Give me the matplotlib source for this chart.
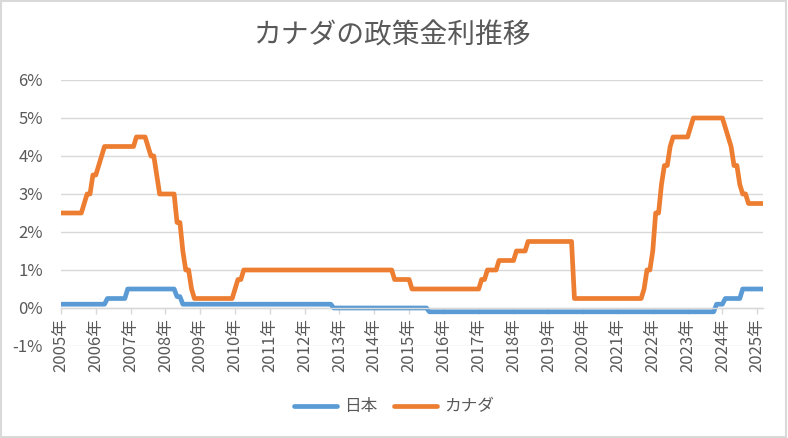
import numpy as np
import matplotlib.pyplot as plt
from matplotlib.patches import Rectangle

plt.rcParams['font.family'] = ['Noto Sans CJK JP', 'DejaVu Sans']

# monthly policy rates (%), Jan 2005 - Mar 2025, one row per year
japan = [
    0.1, 0.1, 0.1, 0.1, 0.1, 0.1, 0.1, 0.1, 0.1, 0.1, 0.1, 0.1,
    0.1, 0.1, 0.1, 0.1, 0.25, 0.25, 0.25, 0.25, 0.25, 0.25, 0.25, 0.5,
    0.5, 0.5, 0.5, 0.5, 0.5, 0.5, 0.5, 0.5, 0.5, 0.5, 0.5, 0.5,
    0.5, 0.5, 0.5, 0.5, 0.3, 0.3, 0.1, 0.1, 0.1, 0.1, 0.1, 0.1,
    0.1, 0.1, 0.1, 0.1, 0.1, 0.1, 0.1, 0.1, 0.1, 0.1, 0.1, 0.1,
    0.1, 0.1, 0.1, 0.1, 0.1, 0.1, 0.1, 0.1, 0.1, 0.1, 0.1, 0.1,
    0.1, 0.1, 0.1, 0.1, 0.1, 0.1, 0.1, 0.1, 0.1, 0.1, 0.1, 0.1,
    0.1, 0.1, 0.1, 0.1, 0.1, 0.1, 0.1, 0.1, 0.1, 0.1, 0.0, 0.0,
    0.0, 0.0, 0.0, 0.0, 0.0, 0.0, 0.0, 0.0, 0.0, 0.0, 0.0, 0.0,
    0.0, 0.0, 0.0, 0.0, 0.0, 0.0, 0.0, 0.0, 0.0, 0.0, 0.0, 0.0,
    0.0, 0.0, 0.0, 0.0, 0.0, 0.0, 0.0, -0.1, -0.1, -0.1, -0.1, -0.1,
    -0.1, -0.1, -0.1, -0.1, -0.1, -0.1, -0.1, -0.1, -0.1, -0.1, -0.1, -0.1,
    -0.1, -0.1, -0.1, -0.1, -0.1, -0.1, -0.1, -0.1, -0.1, -0.1, -0.1, -0.1,
    -0.1, -0.1, -0.1, -0.1, -0.1, -0.1, -0.1, -0.1, -0.1, -0.1, -0.1, -0.1,
    -0.1, -0.1, -0.1, -0.1, -0.1, -0.1, -0.1, -0.1, -0.1, -0.1, -0.1, -0.1,
    -0.1, -0.1, -0.1, -0.1, -0.1, -0.1, -0.1, -0.1, -0.1, -0.1, -0.1, -0.1,
    -0.1, -0.1, -0.1, -0.1, -0.1, -0.1, -0.1, -0.1, -0.1, -0.1, -0.1, -0.1,
    -0.1, -0.1, -0.1, -0.1, -0.1, -0.1, -0.1, -0.1, -0.1, -0.1, -0.1, -0.1,
    -0.1, -0.1, -0.1, -0.1, -0.1, -0.1, -0.1, -0.1, -0.1, -0.1, 0.1, 0.1,
    0.1, 0.25, 0.25, 0.25, 0.25, 0.25, 0.25, 0.5, 0.5, 0.5, 0.5, 0.5,
    0.5, 0.5, 0.5,
]

canada = [
    2.5, 2.5, 2.5, 2.5, 2.5, 2.5, 2.5, 2.5, 2.75, 3.0, 3.0, 3.5,
    3.5, 3.75, 4.0, 4.25, 4.25, 4.25, 4.25, 4.25, 4.25, 4.25, 4.25, 4.25,
    4.25, 4.25, 4.5, 4.5, 4.5, 4.5, 4.25, 4.0, 4.0, 3.5, 3.0, 3.0,
    3.0, 3.0, 3.0, 3.0, 2.25, 2.25, 1.5, 1.0, 1.0, 0.5, 0.25, 0.25,
    0.25, 0.25, 0.25, 0.25, 0.25, 0.25, 0.25, 0.25, 0.25, 0.25, 0.25, 0.25,
    0.5, 0.75, 0.75, 1.0, 1.0, 1.0, 1.0, 1.0, 1.0, 1.0, 1.0, 1.0,
    1.0, 1.0, 1.0, 1.0, 1.0, 1.0, 1.0, 1.0, 1.0, 1.0, 1.0, 1.0,
    1.0, 1.0, 1.0, 1.0, 1.0, 1.0, 1.0, 1.0, 1.0, 1.0, 1.0, 1.0,
    1.0, 1.0, 1.0, 1.0, 1.0, 1.0, 1.0, 1.0, 1.0, 1.0, 1.0, 1.0,
    1.0, 1.0, 1.0, 1.0, 1.0, 1.0, 1.0, 0.75, 0.75, 0.75, 0.75, 0.75,
    0.75, 0.5, 0.5, 0.5, 0.5, 0.5, 0.5, 0.5, 0.5, 0.5, 0.5, 0.5,
    0.5, 0.5, 0.5, 0.5, 0.5, 0.5, 0.5, 0.5, 0.5, 0.5, 0.5, 0.5,
    0.5, 0.75, 0.75, 1.0, 1.0, 1.0, 1.0, 1.25, 1.25, 1.25, 1.25, 1.25,
    1.25, 1.5, 1.5, 1.5, 1.5, 1.75, 1.75, 1.75, 1.75, 1.75, 1.75, 1.75,
    1.75, 1.75, 1.75, 1.75, 1.75, 1.75, 1.75, 1.75, 1.75, 0.25, 0.25, 0.25,
    0.25, 0.25, 0.25, 0.25, 0.25, 0.25, 0.25, 0.25, 0.25, 0.25, 0.25, 0.25,
    0.25, 0.25, 0.25, 0.25, 0.25, 0.25, 0.25, 0.25, 0.25, 0.5, 1.0, 1.0,
    1.5, 2.5, 2.5, 3.25, 3.75, 3.75, 4.25, 4.5, 4.5, 4.5, 4.5, 4.5,
    4.5, 4.75, 5.0, 5.0, 5.0, 5.0, 5.0, 5.0, 5.0, 5.0, 5.0, 5.0,
    5.0, 4.75, 4.5, 4.25, 3.75, 3.75, 3.25, 3.0, 3.0, 2.75, 2.75, 2.75,
    2.75, 2.75, 2.75,
]

years = list(range(2005, 2026))
year_labels = [f"{y}年" for y in years]
y_values = [-1, 0, 1, 2, 3, 4, 5, 6]
y_labels = [f"{v}%" for v in y_values]

TEXT = '#595959'
GRID = '#D9D9D9'

W, H = 788, 438
fig = plt.figure(figsize=(W / 100, H / 100), dpi=100)
ax = fig.add_axes([61 / W, 1 - 346 / H, (763 - 61) / W, (346 - 80) / H])

months = np.arange(len(canada))
ax.plot(months, japan, color='#5B9BD5', lw=3.4, label='日本',
        solid_capstyle='round', solid_joinstyle='round')
ax.plot(months, canada, color='#ED7D31', lw=3.4, label='カナダ',
        solid_capstyle='round', solid_joinstyle='round')

ax.set_xlim(0, len(canada) - 1)
ax.set_ylim(-1, 6)

ax.set_yticks(y_values)
ax.set_yticklabels(y_labels)
ax.tick_params(axis='y', length=0, pad=13, labelsize=12, labelcolor=TEXT)
ax.grid(axis='y', color=GRID, lw=1.0)
ax.set_axisbelow(True)

ax.set_xticks(np.arange(len(years)) * 12)
ax.set_xticklabels(year_labels)
ax.tick_params(axis='x', direction='out', length=4.5, width=1.0, color=GRID,
               pad=3, labelsize=12, labelcolor=TEXT, labelrotation=90)

for s in ['top', 'right', 'left']:
    ax.spines[s].set_visible(False)
ax.spines['bottom'].set_position(('data', 0))
ax.spines['bottom'].set_color(GRID)
ax.spines['bottom'].set_linewidth(1.0)

fig.text(393 / W, 1 - 35 / H, 'カナダの政策金利推移', ha='center', va='center',
         fontsize=20, color=TEXT)

leg = fig.legend(loc='center', bbox_to_anchor=(394 / W, 1 - 407 / H), ncol=2,
                 frameon=False, fontsize=12, handlelength=2.6,
                 handletextpad=0.4, columnspacing=1.0)
for t in leg.get_texts():
    t.set_color(TEXT)

fig.patches.append(Rectangle((0.001, 0.002), 0.997, 0.995, transform=fig.transFigure,
                             fill=False, edgecolor=GRID, lw=1.5))

fig.savefig('out.png', dpi=100, facecolor='white')
